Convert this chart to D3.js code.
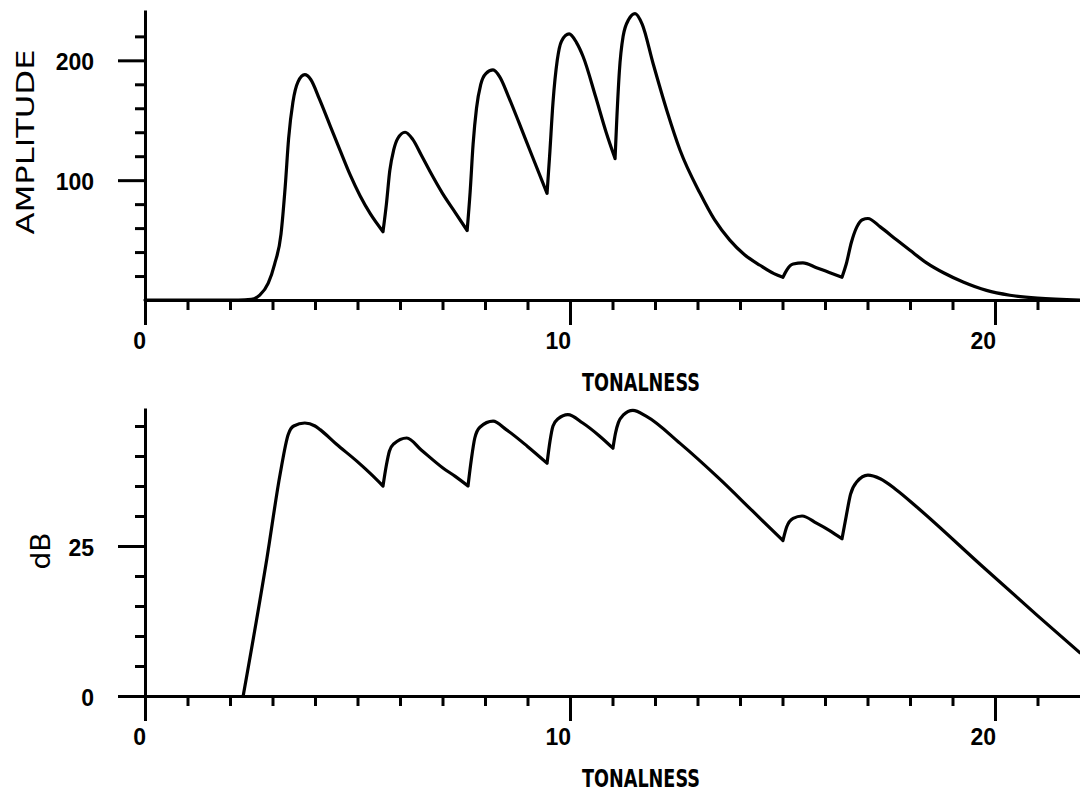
<!DOCTYPE html>
<html>
<head>
<meta charset="utf-8">
<script src="https://cdn.jsdelivr.net/npm/d3@7"></script>
<style>
    body { margin: 0; background: #fff; }
    svg { display: block; }
    .axis path, .axis line { stroke: #000; stroke-width: 3; }
    .curve { fill: none; stroke: #000; stroke-width: 3.2; stroke-linejoin: round; stroke-linecap: round; }
    .num { font-family: "Liberation Sans", Arial, sans-serif; font-weight: bold; font-size: 23px; }
    .label { font-family: "DejaVu Sans", sans-serif; }
</style>
</head>
<body>
<div id="chart"></div>
<script>
// upper panel: amplitude against tonalness
var tonalTop = [0, 2.2, 2.5, 2.7, 2.9, 3.05, 3.2, 3.3, 3.38, 3.48, 3.6, 3.76, 3.9, 4.1, 4.35, 4.6, 4.82, 5.06, 5.3, 5.6,
    5.68, 5.76, 5.85, 5.95, 6.12, 6.3, 6.5, 6.71, 7.0, 7.3, 7.58,
    7.65, 7.72, 7.8, 7.9, 8.02, 8.19, 8.35, 8.55, 8.8, 9.1, 9.46,
    9.52, 9.6, 9.7, 9.8, 9.98, 10.15, 10.31, 10.6, 10.85, 11.06,
    11.1, 11.16, 11.25, 11.38, 11.53, 11.7, 11.95, 12.28, 12.59, 13.06, 13.4, 13.76, 14.1, 14.47, 14.8, 15.01,
    15.1, 15.25, 15.48, 15.8, 16.1, 16.4,
    16.5, 16.62, 16.75, 16.88, 17.01, 17.3, 17.69, 18.0, 18.39, 18.8, 19.25, 19.8, 20.35, 21.0, 22.0];
var amplitude = [0, 0, 0.5, 4, 14, 30, 55, 95, 135, 165, 182, 188, 184, 168, 146, 124, 105, 87, 72, 57,
    80, 108, 125, 135, 140, 134, 121, 107, 89, 73, 58,
    90, 130, 160, 180, 189, 192, 186, 170, 148, 121, 89,
    120, 165, 200, 216, 222, 215, 203, 170, 140, 118,
    150, 190, 220, 234, 239, 230, 198, 158, 125, 89, 67, 50, 38, 29, 22, 19,
    25, 30, 31, 27, 23, 19,
    30, 48, 61, 67, 68, 61, 50, 41.5, 31, 22.5, 15, 8, 4, 1.5, 0];

// lower panel: level in dB against tonalness
var tonalBottom = [2.31, 2.87, 3.18, 3.37, 3.5, 3.76, 4.0, 4.12, 4.5, 4.99, 5.3, 5.6,
    5.68, 5.75, 5.85, 6.16, 6.5, 7.01, 7.3, 7.6,
    7.68, 7.76, 7.88, 8.19, 8.5, 9.0, 9.46,
    9.53, 9.6, 9.72, 9.95, 10.3, 10.7, 11.01,
    11.07, 11.14, 11.25, 11.48, 11.8, 12.59, 13.5, 14.3, 15.01,
    15.1, 15.25, 15.46, 15.8, 16.1, 16.4,
    16.5, 16.6, 16.75, 17.01, 17.3, 17.69, 18.16, 19.72, 21.0, 22.0];
var decibels = [0, 23, 37, 43.6, 45, 45.5, 45, 44.4, 42, 39.1, 37.1, 35.0,
    38.5, 40.8, 42, 43, 41, 38, 36.6, 35,
    39.5, 43, 44.8, 45.8, 44.4, 41.6, 38.8,
    42.5, 45, 46.2, 46.9, 45.5, 43.3, 41.3,
    43.8, 45.6, 46.8, 47.6, 46.6, 42.1, 36.3, 30.8, 25.9,
    28.2, 29.6, 30, 28.8, 27.6, 26.2,
    30, 33.6, 35.7, 36.8, 36.2, 34.3, 31.5, 21.5, 13.4, 7.2];

var xTicks = [0, 1, 2, 3, 4, 5, 6, 7, 8, 9, 10, 11, 12, 13, 14, 15, 16, 17, 18, 19, 20, 21];
var xLabels = [0, 10, 20];
var ampTicks = [20, 40, 60, 80, 100, 120, 140, 160, 180, 200, 220];
var ampLabels = [100, 200];
var dbTicks = [0, 5, 10, 15, 20, 25, 30, 35, 40, 45];
var dbLabels = [0, 25];

var W = 1080, H = 795;

var x = d3.scaleLinear().domain([0, 22]).range([145, 1080]);
var yAmp = d3.scaleLinear().domain([0, 242]).range([300, 10]);
var yDb = d3.scaleLinear().domain([0, 48]).range([696, 408]);

var svg = d3.select("#chart").append("svg")
        .attr("width", W)
        .attr("height", H);

// cut the series at each local minimum so the dips stay sharp
function segments(pts) {
    var out = [], cur = [pts[0]];
    for (var i = 1; i < pts.length; i++) {
        cur.push(pts[i]);
        if (i < pts.length - 1 && pts[i][1] < pts[i - 1][1] && pts[i][1] < pts[i + 1][1]) {
            out.push(cur);
            cur = [pts[i]];
        }
    }
    out.push(cur);
    return out;
}

function panel(yScale, yTicks, yLabels, xs, ys) {
    var base = yScale(0);

    var xAxis = d3.axisBottom(x)
            .tickValues(xTicks)
            .tickSize(10)
            .tickSizeOuter(0)
            .tickFormat("");

    var gx = svg.append("g")
            .attr("class", "x axis")
            .attr("transform", "translate(0," + base + ")")
            .call(xAxis);
    gx.selectAll(".tick line")
            .attr("y2", function(d) { return xLabels.indexOf(d) >= 0 ? 25 : 10; });

    var yAxis = d3.axisLeft(yScale)
            .tickValues(yTicks)
            .tickSize(10)
            .tickSizeOuter(0)
            .tickFormat("");

    var gy = svg.append("g")
            .attr("class", "y axis")
            .attr("transform", "translate(" + x(0) + ",0)")
            .call(yAxis);
    gy.selectAll(".tick line")
            .attr("x2", function(d) { return yLabels.indexOf(d) >= 0 ? -27 : -10; });

    svg.selectAll(null)
            .data(xLabels)
            .enter().append("text")
            .attr("class", "num")
            .attr("text-anchor", "end")
            .attr("x", function(d) { return x(d) + 1; })
            .attr("y", base + 49)
            .text(function(d) { return d; });

    svg.selectAll(null)
            .data(yLabels)
            .enter().append("text")
            .attr("class", "num")
            .attr("text-anchor", "end")
            .attr("x", 94)
            .attr("y", function(d) { return yScale(d) + 10; })
            .text(function(d) { return d; });

    svg.append("text")
            .attr("class", "label")
            .attr("x", 641)
            .attr("y", base + 91)
            .attr("text-anchor", "middle")
            .attr("font-size", 24)
            .attr("font-weight", "bold")
            .attr("textLength", 118)
            .attr("lengthAdjust", "spacingAndGlyphs")
            .text("TONALNESS");

    var pts = xs.map(function(d, i) { return [d, ys[i]]; });

    var line = d3.line()
            .x(function(d) { return x(d[0]); })
            .y(function(d) { return yScale(d[1]); })
            .curve(d3.curveMonotoneX);

    svg.append("path")
            .attr("class", "curve")
            .attr("d", segments(pts).map(function(s) { return line(s); }).join(""));
}

panel(yAmp, ampTicks, ampLabels, tonalTop, amplitude);
panel(yDb, dbTicks, dbLabels, tonalBottom, decibels);

svg.append("text")
        .attr("class", "label")
        .attr("transform", "translate(34,142) rotate(-90)")
        .attr("text-anchor", "middle")
        .attr("font-size", 24)
        .attr("textLength", 185)
        .attr("lengthAdjust", "spacingAndGlyphs")
        .text("AMPLITUDE");

svg.append("text")
        .attr("class", "label")
        .attr("transform", "translate(50,551) rotate(-90)")
        .attr("text-anchor", "middle")
        .attr("font-size", 27)
        .attr("textLength", 37)
        .attr("lengthAdjust", "spacingAndGlyphs")
        .text("dB");
</script>
</body>
</html>
